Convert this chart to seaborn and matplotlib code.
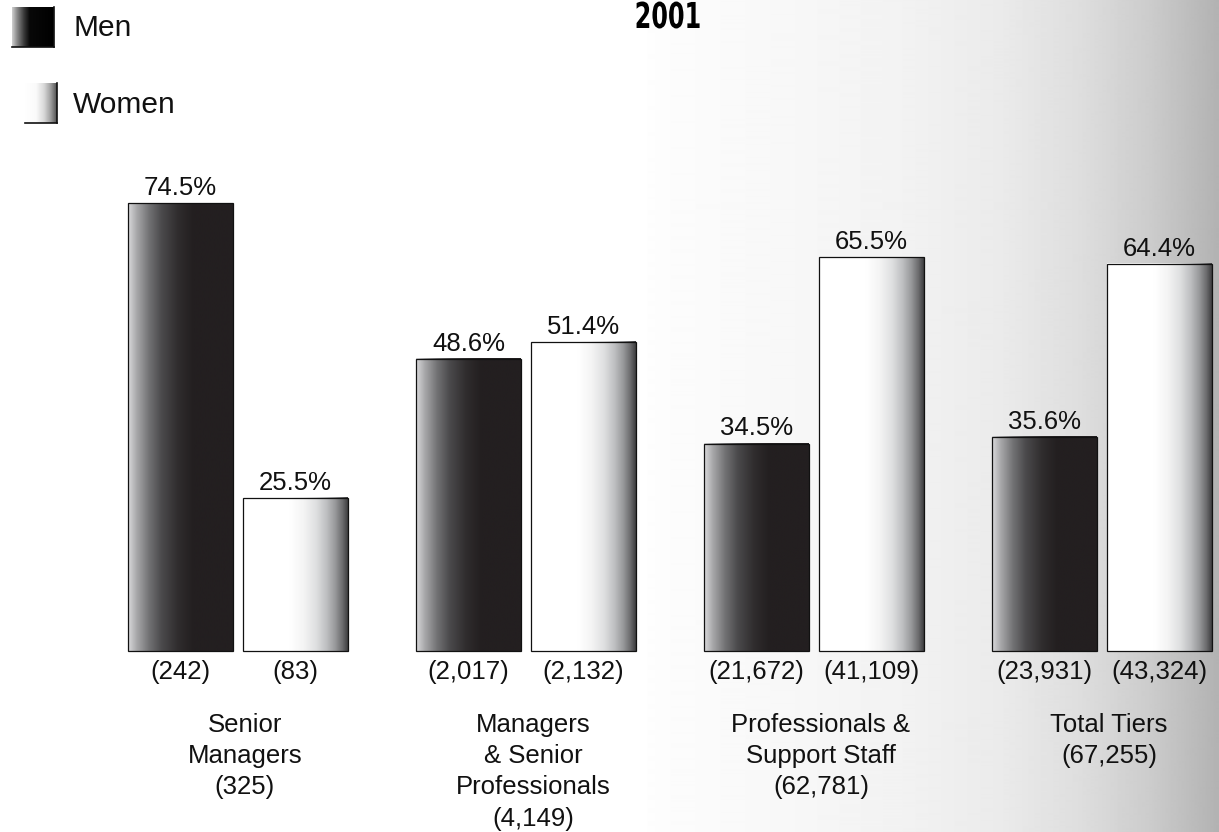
import numpy as np
import pandas as pd
import matplotlib
matplotlib.use("Agg")
import matplotlib.pyplot as plt
from matplotlib.colors import LinearSegmentedColormap
from matplotlib.patheffects import AbstractPathEffect
from matplotlib.transforms import Affine2D
import seaborn as sns

# ---- data -------------------------------------------------------------
categories = [
    "Senior\nManagers\n(325)",
    "Managers\n& Senior\nProfessionals\n(4,149)",
    "Professionals &\nSupport Staff\n(62,781)",
    "Total Tiers\n(67,255)",
]
series = ["Men", "Women"]
men_pct = [74.5, 48.6, 34.5, 35.6]
women_pct = [25.5, 51.4, 65.5, 64.4]
men_counts = ["(242)", "(2,017)", "(21,672)", "(23,931)"]
women_counts = ["(83)", "(2,132)", "(41,109)", "(43,324)"]
title = "2001"

df = pd.DataFrame({
    "category": categories * 2,
    "sex": [series[0]] * len(categories) + [series[1]] * len(categories),
    "pct": men_pct + women_pct,
})

# ---- style ------------------------------------------------------------
sns.set_theme(style="white")
plt.rcParams["font.family"] = ["Liberation Sans", "DejaVu Sans"]


class Squeeze(AbstractPathEffect):
    """Narrow the glyph outlines horizontally around a fixed x (pixels)."""

    def __init__(self, sx, cx):
        super().__init__()
        self.sx, self.cx = sx, cx

    def draw_path(self, renderer, gc, tpath, affine, rgbFace=None):
        squeeze = Affine2D().translate(-self.cx, 0).scale(self.sx, 1).translate(self.cx, 0)
        renderer.draw_path(gc, tpath, affine + squeeze, rgbFace)


W, H = 1219, 832
fig = plt.figure(figsize=(W / 100, H / 100), dpi=100)

# page background: white fading to grey at the right edge
bg = fig.add_axes([0, 0, 1, 1])
bg_x = np.arange(W)
bg_vals = np.interp(bg_x, [0, 640, 660, 800, 900, 1000, 1080, 1150, 1218],
                    [1.0, 1.0, 0.99, 0.968, 0.95, 0.92, 0.87, 0.80, 0.70])
bg.imshow(np.tile(bg_vals, (2, 1)), cmap="gray", vmin=0, vmax=1,
          aspect="auto", extent=[0, 1, 0, 1], interpolation="bilinear")
bg.set_axis_off()

ax = fig.add_axes([0, 0, 1, 1])
ax.patch.set_alpha(0)

men_cmap = LinearSegmentedColormap.from_list("men", [
    (0.0, "#dadadc"), (0.08, "#a9a9ab"), (0.2, "#727274"), (0.32, "#4b4a4c"),
    (0.48, "#2f2c2d"), (0.62, "#231f20"), (1.0, "#231f20")])
women_cmap = LinearSegmentedColormap.from_list("women", [
    (0.0, "#ffffff"), (0.45, "#ffffff"), (0.58, "#f4f4f4"), (0.7, "#dedfe0"),
    (0.8, "#bdbec0"), (0.88, "#98999b"), (0.95, "#6b6b6d"), (1.0, "#3e3e40")])
cmaps = [men_cmap, women_cmap]

sns.barplot(data=df, x="category", y="pct", hue="sex", hue_order=series,
            palette={"Men": "#231f20", "Women": "#ffffff"},
            width=0.8, gap=0.09, edgecolor="#111111", linewidth=0.9,
            legend=False, ax=ax)

grad = np.linspace(0, 1, 256)[None, :]
count_labels = [men_counts, women_counts]
pcts = [men_pct, women_pct]
for k, cont in enumerate(ax.containers):
    for j, p in enumerate(cont.patches):
        x0, w, h = p.get_x(), p.get_width(), p.get_height()
        p.set_facecolor("none")
        p.set_zorder(3)
        ax.imshow(grad, cmap=cmaps[k], extent=[x0, x0 + w, 0, h],
                  aspect="auto", zorder=2, interpolation="bilinear")
        cx = x0 + w / 2
        ax.annotate(f"{pcts[k][j]}%", xy=(cx, h), xytext=(0, 5.8),
                    textcoords="offset points", ha="center", va="baseline",
                    fontsize=18.5, color="#111111")
        ax.annotate(count_labels[k][j], xy=(cx, 0), xytext=(0, -28 * 0.72),
                    textcoords="offset points", ha="center", va="baseline",
                    fontsize=18.5, color="#111111")

for i, cat in enumerate(categories):
    ax.annotate(cat, xy=(i, 0), xytext=(5, -62 * 0.72),
                textcoords="offset points", ha="center", va="top",
                multialignment="center", linespacing=1.38,
                fontsize=18.5, color="#111111")

# 288 px per category, baseline at 651 px, 6.013 px per percent
ax.set_xlim(-238 / 288, (W - 238) / 288)
ax.set_ylim(-(H - 651) / 6.013, 651 / 6.013)
ax.set_axis_off()

# ---- legend -----------------------------------------------------------
def swatch(x, y, w, h, cmap):
    sax = fig.add_axes([x / W, 1 - (y + h) / H, w / W, h / H])
    sax.imshow(grad, cmap=cmap, aspect="auto", interpolation="bilinear")
    sax.set_xticks([])
    sax.set_yticks([])
    for side, sp in sax.spines.items():
        sp.set_visible(side in ("right", "bottom"))
        sp.set_color("#111111")
        sp.set_linewidth(1.2)

swatch_men = LinearSegmentedColormap.from_list("sw_men", [
    (0.0, "#d0d0d0"), (0.12, "#8a8a8a"), (0.28, "#3c3c3c"), (0.42, "#080808"),
    (1.0, "#000000")])
swatch_women = LinearSegmentedColormap.from_list("sw_women", [
    (0.0, "#ffffff"), (0.35, "#fafafa"), (0.6, "#d8d8d8"), (0.8, "#a0a0a0"),
    (1.0, "#505050")])
swatch(12, 7, 42, 40, swatch_men)
swatch(25, 83, 32, 40, swatch_women)
fig.text(73 / W, 1 - 36 / H, series[0], fontsize=21.5, va="baseline",
         color="#111111")
fig.text(73 / W, 1 - 113 / H, series[1], fontsize=21.5, va="baseline",
         color="#111111")

# heavy condensed year heading
fig.text(668 / W, 1 - 28 / H, title, ha="center", va="baseline",
         fontsize=25.7, fontweight="heavy", family="DejaVu Sans",
         color="#000000", path_effects=[Squeeze(0.67, 668)])

fig.savefig("out.png", dpi=100)
